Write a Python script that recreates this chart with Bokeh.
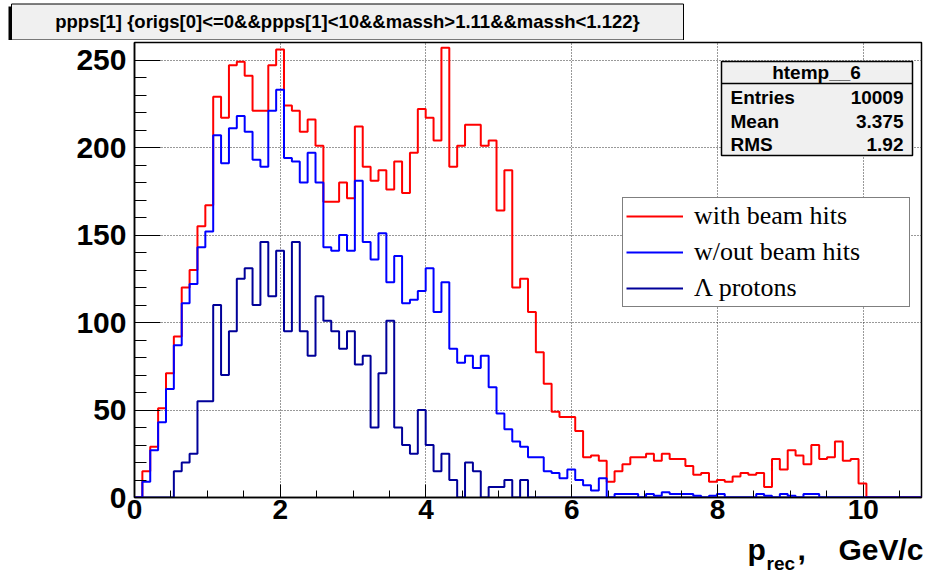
import numpy as np
from bokeh.plotting import figure
from bokeh.models import Range1d, FixedTicker, Legend, LegendItem
from bokeh.layouts import column
from bokeh.embed import file_html
from bokeh.resources import INLINE
from bokeh.core.properties import value

# ---------------- data ----------------
x_min, x_max, n_bins = 0.0, 10.8, 100
y_max = 260

with_beam = [0, 15, 29, 51, 71, 92, 120, 130, 155, 167,
             229, 217, 247, 249, 241, 221, 221, 247, 256, 224,
             221, 209, 216, 201, 169, 169, 180, 171, 212, 189,
             181, 187, 176, 192, 174, 197, 222, 217, 204, 257,
             189, 201, 213, 213, 201, 204, 164, 187, 120, 125,
             106, 83, 65, 49, 46, 46, 38, 23, 24, 21,
             9, 15, 19, 23, 23, 25, 21, 25, 22, 22,
             18, 13, 14, 9, 10, 9, 12, 14, 13, 14,
             6, 22, 16, 27, 24, 19, 30, 22, 23, 32,
             21, 22, 8, 0, 0, 0, 0, 0, 0, 0]

without_beam = [0, 9, 27, 43, 62, 87, 111, 122, 143, 152,
                207, 191, 211, 218, 209, 193, 189, 221, 233, 194,
                192, 180, 197, 180, 143, 141, 150, 141, 181, 146,
                136, 151, 123, 138, 111, 113, 118, 131, 106, 123,
                85, 77, 81, 74, 81, 63, 48, 39, 32, 29,
                23, 23, 15, 14, 11, 16, 10, 7, 4, 11,
                0, 2, 2, 2, 0, 2, 1, 3, 2, 2,
                2, 1, 0, 1, 2, 0, 0, 0, 0, 2,
                1, 0, 2, 1, 0, 2, 2, 0, 0, 0,
                0, 0, 0, 0, 0, 0, 0, 0, 0, 0]

lambda_protons = [0, 0, 0, 0, 0, 15, 20, 25, 55, 55,
                  110, 70, 95, 125, 131, 110, 146, 115, 141, 95,
                  146, 95, 81, 115, 101, 95, 85, 95, 76, 81,
                  40, 71, 101, 40, 30, 25, 50, 30, 15, 25,
                  10, 0, 20, 15, 0, 6, 6, 10, 0, 10,
                  0, 0, 0, 0, 0, 0, 0, 0, 0, 0,
                  0, 0, 0, 0, 0, 0, 0, 0, 0, 0,
                  0, 0, 0, 0, 0, 0, 0, 0, 0, 0,
                  0, 0, 0, 0, 0, 0, 0, 0, 0, 0,
                  0, 0, 0, 0, 0, 0, 0, 0, 0, 0]

x_ticks = [0, 2, 4, 6, 8, 10]
y_ticks = [0, 50, 100, 150, 200, 250]
title_text = "ppps[1] {origs[0]<=0&&ppps[1]<10&&massh>1.11&&massh<1.122}"
stats_name = "htemp__6"
stats_labels = ["Entries", "Mean", "RMS"]
stats_values = ["10009", "3.375", "1.92"]
legend_labels = ["with beam hits", "w/out beam hits", "\u039b protons"]
x_title_main = "p"
x_title_sub = "rec"
x_title_comma = ","
x_title_unit = "GeV/c"

# ---------------- layout constants (page pixels) ----------------
W = 930
TOP_H = 40          # title strip: y 0..40
MAIN_BOTTOM = 531   # main figure: y 40..531
TOTAL_H = 575       # x-title strip: y 531..575
FX0, FX1 = 134, 921
FY0, FY1 = 42, 497
SANS = "Liberation Sans"
SERIF = "Liberation Serif"


def dx(px):
    return x_min + (px - FX0) * (x_max - x_min) / (FX1 - FX0)


def dy(py):
    return y_max - (py - FY0) * y_max / (FY1 - FY0)


def strip(y0, y1):
    f = figure(width=W, height=y1 - y0, x_range=Range1d(0, W), y_range=Range1d(y1, y0),
               toolbar_location=None, output_backend="svg", x_axis_type=None, y_axis_type=None,
               min_border=0)
    f.frame_align = False
    f.outline_line_color = None
    f.grid.visible = False
    return f


# ---------------- title strip ----------------
top = strip(0, TOP_H)
top.quad(left=[11], right=[683], top=[3.5], bottom=[39.5], fill_color="#f0f0f0",
         line_color="black", line_width=1)
top.quad(left=[8], right=[11], top=[6], bottom=[40], fill_color="black", line_color=None)
top.text(x=[347], y=[21], text=[title_text], text_align="center", text_baseline="middle",
         text_font=value(SANS), text_font_style="bold", text_font_size="18.5px", text_color="black")

# ---------------- main histogram ----------------
p = figure(width=W, height=MAIN_BOTTOM - TOP_H, x_range=Range1d(x_min, x_max),
           y_range=Range1d(0, y_max), toolbar_location=None, output_backend="svg",
           min_border_left=FX0, min_border_right=W - FX1,
           min_border_top=FY0 - TOP_H, min_border_bottom=MAIN_BOTTOM - FY1)
p.frame_align = False
p.outline_line_color = "black"
p.outline_line_width = 1.5
p.background_fill_color = "white"
p.border_fill_color = "white"

edges = np.linspace(x_min, x_max, n_bins + 1)


def steps(vals):
    return list(vals) + [vals[-1]]


r_red = p.step(x=edges, y=steps(with_beam), mode="after", line_color="#ff0000", line_width=2)
r_navy = p.step(x=edges, y=steps(lambda_protons), mode="after", line_color="#000099", line_width=2)
r_blue = p.step(x=edges, y=steps(without_beam), mode="after", line_color="#0000ff", line_width=2)

p.xaxis.ticker = FixedTicker(ticks=x_ticks, minor_ticks=list(np.arange(0, 10.81, 0.5)))
p.yaxis.ticker = FixedTicker(ticks=y_ticks, minor_ticks=list(range(0, 261, 10)))
for ax in (p.xaxis, p.yaxis):
    ax.axis_line_color = "black"
    ax.axis_line_width = 1.5
    ax.major_tick_line_color = "black"
    ax.minor_tick_line_color = "black"
    ax.major_tick_out = 0
    ax.minor_tick_out = 0
    ax.major_label_text_font = SANS
    ax.major_label_text_font_style = "bold"
    ax.major_label_text_color = "black"
p.xaxis.major_label_text_font_size = "28px"
p.yaxis.major_label_text_font_size = "30px"
p.xaxis.major_tick_in = 13
p.xaxis.minor_tick_in = 7
p.yaxis.major_tick_in = 26
p.yaxis.minor_tick_in = 12
p.xaxis.major_label_standoff = 2
p.yaxis.major_label_standoff = 8

p.xgrid.ticker = FixedTicker(ticks=x_ticks)
p.ygrid.ticker = FixedTicker(ticks=y_ticks)
for g in (p.xgrid, p.ygrid):
    g.grid_line_color = "#333333"
    g.grid_line_dash = "1 2"
    g.grid_line_width = 1

# stats box
p.quad(left=[dx(721)], right=[dx(912)], top=[dy(61)], bottom=[dy(155)],
       fill_color="#f0f0f0", line_color="black", line_width=1.5)
p.segment(x0=[dx(721)], x1=[dx(912)], y0=[dy(83)], y1=[dy(83)], line_color="black", line_width=1.5)
p.text(x=[dx(816)], y=[dy(72)], text=[stats_name], text_align="center", text_baseline="middle",
       text_font=value(SANS), text_font_style="bold", text_font_size="19px", text_color="black")
row_y = [dy(97), dy(120.5), dy(143.5)]
p.text(x=[dx(730)] * 3, y=row_y, text=stats_labels, text_align="left", text_baseline="middle",
       text_font=value(SANS), text_font_style="bold", text_font_size="19px", text_color="black")
p.text(x=[dx(903)] * 3, y=row_y, text=stats_values, text_align="right", text_baseline="middle",
       text_font=value(SANS), text_font_style="bold", text_font_size="19px", text_color="black")

# legend
legend = Legend(items=[LegendItem(label=legend_labels[0], renderers=[r_red]),
                       LegendItem(label=legend_labels[1], renderers=[r_blue]),
                       LegendItem(label=legend_labels[2], renderers=[r_navy])],
                location=(622 - FX0, FY1 - 307))
legend.border_line_color = "black"
legend.border_line_width = 1.5
legend.background_fill_color = "white"
legend.background_fill_alpha = 1.0
legend.padding = 3
legend.spacing = 6
legend.margin = 0
legend.glyph_width = 57
legend.glyph_height = 26
legend.label_height = 26
legend.label_standoff = 11
legend.label_width = 212
legend.label_text_font = SERIF
legend.label_text_font_size = "26px"
legend.label_text_color = "black"
p.add_layout(legend, "center")

# ---------------- x-axis title strip ----------------
bot = strip(MAIN_BOTTOM, TOTAL_H)
bot.text(x=[747], y=[549], text=[x_title_main], text_align="left", text_baseline="middle",
         text_font=value(SANS), text_font_style="bold", text_font_size="30px", text_color="black")
bot.text(x=[766], y=[563], text=[x_title_sub], text_align="left", text_baseline="middle",
         text_font=value(SANS), text_font_style="bold", text_font_size="19px", text_color="black")
bot.text(x=[797], y=[549], text=[x_title_comma], text_align="left", text_baseline="middle",
         text_font=value(SANS), text_font_style="bold", text_font_size="30px", text_color="black")
bot.text(x=[923], y=[549], text=[x_title_unit], text_align="right", text_baseline="middle",
         text_font=value(SANS), text_font_style="bold", text_font_size="30px", text_color="black")

layout = column(top, p, bot, spacing=0)
open("out.html", "w").write(file_html(layout, INLINE))
